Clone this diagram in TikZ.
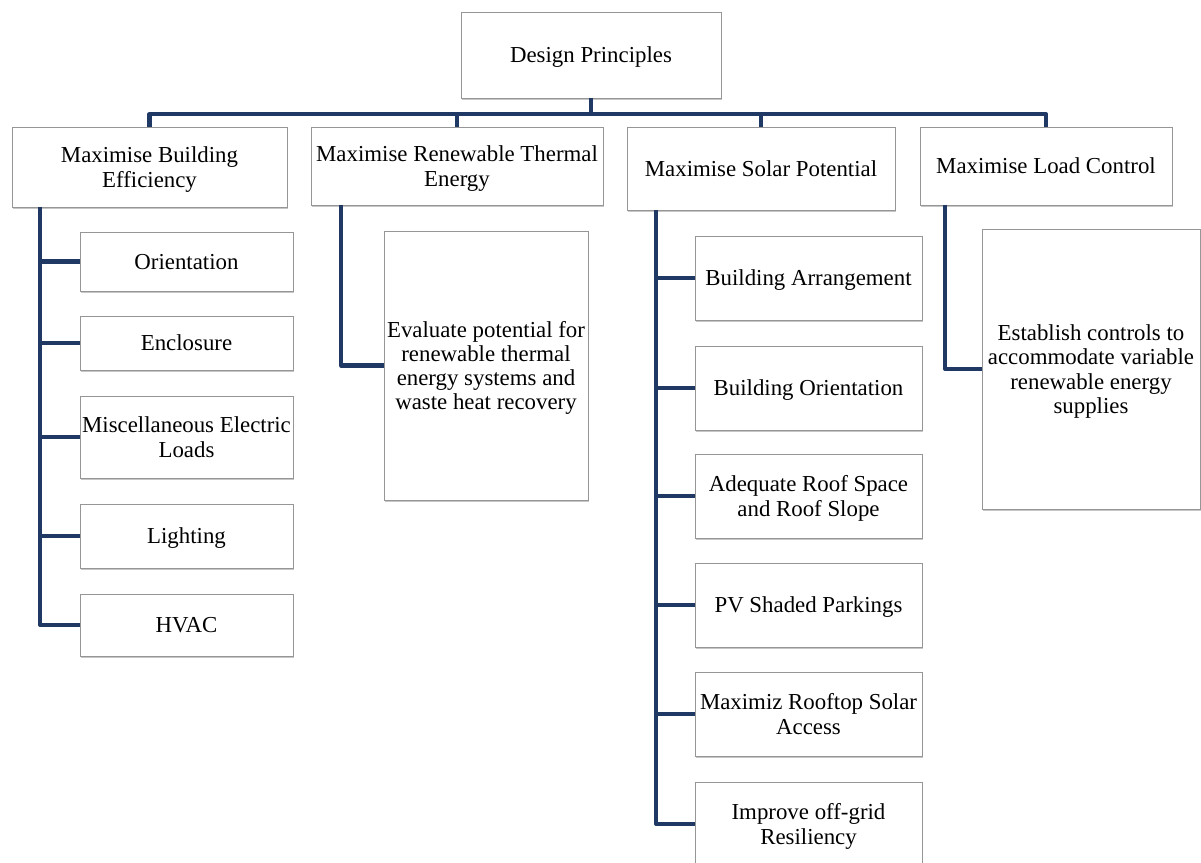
\documentclass[tikz,border=0pt]{standalone}
\usepackage{fontspec}
\setmainfont{Liberation Serif}
\usetikzlibrary{shadows}
\definecolor{linkblue}{RGB}{31,56,100}
\definecolor{boxgray}{RGB}{150,150,150}

\begin{document}
\begin{tikzpicture}[x=0.2mm, y=-0.2mm,
    box/.style={draw=boxgray, line width=0.5pt, fill=white, align=center,
      inner sep=1pt, text depth=0pt, font=\fontsize{13}{13.8}\selectfont,
      drop shadow={shadow xshift=0.8pt, shadow yshift=-1pt, opacity=0.45, fill=gray}},
    link/.style={draw=linkblue, line width=2.3pt, line join=round}]
  \useasboundingbox (0,0) rectangle (1201,863);

  % top level
  \node[box, minimum width=52mm, minimum height=17.2mm] (top) at (591,55) {Design Principles};
  \coordinate (bus) at (591,114);

  % principles
  \node[box, minimum width=55mm, minimum height=16mm] (eff) at (149.5,167) {Maximise Building\\Efficiency};
  \node[box, minimum width=58.4mm, minimum height=15.6mm] (thermal) at (457,166) {Maximise Renewable Thermal\\Energy};
  \node[box, minimum width=53.6mm, minimum height=16.6mm] (solar) at (761,168.5) {Maximise Solar Potential};
  \node[box, minimum width=50.4mm, minimum height=15.6mm] (load) at (1046,166) {Maximise Load Control};

  \draw[link] (top.south) -- (bus);
  \draw[link] (eff.north) -- (eff.north |- bus) -- (load.north |- bus) -- (load.north);
  \draw[link] (thermal.north |- bus) -- (thermal.north);
  \draw[link] (solar.north |- bus) -- (solar.north);

  % building efficiency
  \node[box, minimum width=42.6mm, minimum height=11.8mm] (orient) at (186.5,261.5) {Orientation};
  \node[box, minimum width=42.6mm, minimum height=10.8mm] (encl) at (186.5,343) {Enclosure};
  \node[box, minimum width=42.6mm, minimum height=16.4mm] (misc) at (186.5,437) {Miscellaneous Electric\\Loads};
  \node[box, minimum width=42.6mm, minimum height=12.8mm] (light) at (186.5,536) {Lighting};
  \node[box, minimum width=42.6mm, minimum height=12.4mm] (hvac) at (186.5,625) {HVAC};
  \coordinate (effbar) at (40,207);

  \draw[link] (effbar) |- (hvac.west);
  \draw[link] (effbar |- orient.west) -- (orient.west);
  \draw[link] (effbar |- encl.west) -- (encl.west);
  \draw[link] (effbar |- misc.west) -- (misc.west);
  \draw[link] (effbar |- light.west) -- (light.west);

  % renewable thermal
  \node[box, minimum width=40.8mm, minimum height=53.8mm] (evaluate) at (486,365.5) {Evaluate potential for\\renewable thermal\\energy systems and\\waste heat recovery};
  \coordinate (thermbar) at (341,205);
  \draw[link] (thermbar) |- (evaluate.west);

  % solar potential
  \node[box, minimum width=45.4mm, minimum height=16.8mm] (arrange) at (808.5,278) {Building Arrangement};
  \node[box, minimum width=45.4mm, minimum height=16.8mm] (borient) at (808.5,388) {Building Orientation};
  \node[box, minimum width=45.4mm, minimum height=16.8mm] (roof) at (808.5,496) {Adequate Roof Space\\and Roof Slope};
  \node[box, minimum width=45.4mm, minimum height=16.8mm] (parking) at (808.5,605) {PV Shaded Parkings};
  \node[box, minimum width=45.4mm, minimum height=16.8mm] (rooftop) at (808.5,714) {Maximiz Rooftop Solar\\Access};
  \node[box, minimum width=45.4mm, minimum height=16.8mm] (offgrid) at (808.5,824) {Improve off-grid\\Resiliency};
  \coordinate (solarbar) at (656,210);

  \draw[link] (solarbar) |- (offgrid.west);
  \draw[link] (solarbar |- arrange.west) -- (arrange.west);
  \draw[link] (solarbar |- borient.west) -- (borient.west);
  \draw[link] (solarbar |- roof.west) -- (roof.west);
  \draw[link] (solarbar |- parking.west) -- (parking.west);
  \draw[link] (solarbar |- rooftop.west) -- (rooftop.west);

  % load control
  \node[box, minimum width=43.6mm, minimum height=56mm] (controls) at (1091,369) {Establish controls to\\accommodate variable\\renewable energy\\supplies};
  \coordinate (loadbar) at (945,205);
  \draw[link] (loadbar) |- (controls.west);
\end{tikzpicture}
\end{document}
